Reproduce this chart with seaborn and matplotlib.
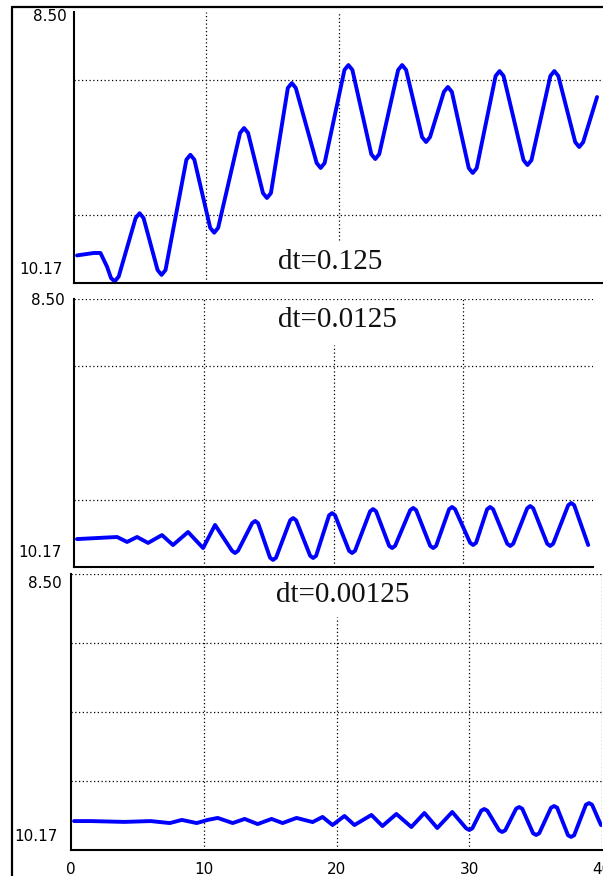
import matplotlib
matplotlib.use("Agg")
import matplotlib.pyplot as plt
import seaborn as sns
import pandas as pd
from matplotlib.lines import Line2D

# ---------------- data ----------------
t1 = [0.23, 1.5, 2.0, 2.5, 2.8, 3.08, 3.38, 4.66, 4.96, 5.26, 6.32, 6.62, 6.92,
      8.5, 8.8, 9.1, 10.3, 10.6, 10.9, 12.56, 12.86, 13.16, 14.29, 14.59, 14.89,
      16.17, 16.47, 16.77, 18.35, 18.65, 18.95, 20.45, 20.75, 21.05, 22.48, 22.78,
      23.08, 24.51, 24.81, 25.11, 26.32, 26.62, 26.92, 27.97, 28.27, 28.57, 29.85,
      30.15, 30.45, 31.88, 32.18, 32.48, 33.99, 34.29, 34.59, 36.02, 36.32, 36.62,
      37.9, 38.2, 38.5, 39.55]
v1 = [10.00, 9.985, 9.985, 10.07, 10.14, 10.16, 10.13, 9.77, 9.74, 9.77, 10.09,
      10.12, 10.09, 9.41, 9.38, 9.41, 9.83, 9.86, 9.83, 9.245, 9.215, 9.245,
      9.616, 9.646, 9.616, 8.968, 8.938, 8.968, 9.431, 9.461, 9.431, 8.857,
      8.827, 8.857, 9.376, 9.406, 9.376, 8.857, 8.827, 8.857, 9.271, 9.301,
      9.271, 8.992, 8.962, 8.992, 9.462, 9.492, 9.462, 8.894, 8.864, 8.894,
      9.413, 9.443, 9.413, 8.894, 8.864, 8.894, 9.302, 9.332, 9.302, 9.024]

t2 = [0.23, 3.32, 4.09, 4.86, 5.71, 6.78, 7.63, 8.79, 9.95, 10.87, 12.18, 12.41,
      12.64, 13.73, 13.96, 14.19, 15.11, 15.34, 15.57, 16.66, 16.89, 17.12, 18.2,
      18.43, 18.66, 19.66, 19.89, 20.12, 21.2, 21.43, 21.66, 22.82, 23.05, 23.28,
      24.29, 24.52, 24.75, 25.91, 26.14, 26.37, 27.45, 27.68, 27.91, 28.91, 29.14,
      29.37, 30.53, 30.76, 30.99, 31.84, 32.07, 32.3, 33.39, 33.62, 33.85, 34.93,
      35.16, 35.39, 36.47, 36.7, 36.93, 38.09, 38.32, 38.55, 39.63]
v2 = [9.996, 9.983, 10.014, 9.983, 10.020, 9.971, 10.033, 9.952, 10.052, 9.908,
      10.069, 10.083, 10.069, 9.897, 9.883, 9.897, 10.112, 10.126, 10.112, 9.879,
      9.865, 9.879, 10.100, 10.114, 10.100, 9.848, 9.834, 9.848, 10.069, 10.083,
      10.069, 9.823, 9.809, 9.823, 10.038, 10.052, 10.038, 9.816, 9.802, 9.816,
      10.038, 10.052, 10.038, 9.810, 9.796, 9.810, 10.019, 10.033, 10.019, 9.810,
      9.796, 9.810, 10.025, 10.039, 10.025, 9.804, 9.790, 9.804, 10.025, 10.039,
      10.025, 9.785, 9.771, 9.785, 10.033]

t3 = [0.23, 1.5, 4.0, 6.0, 7.44, 8.35, 9.47, 10.30, 11.05, 12.18, 13.08, 14.06,
      15.11, 15.94, 16.99, 18.20, 18.95, 19.70, 20.60, 21.35, 22.63, 23.46, 24.51,
      25.64, 26.62, 27.59, 28.72, 29.77, 30.00, 30.23, 30.90, 31.13, 31.36, 32.25,
      32.48, 32.71, 33.53, 33.76, 33.99, 34.81, 35.04, 35.27, 36.16, 36.39, 36.62,
      37.44, 37.67, 37.9, 38.79, 39.02, 39.25, 39.92]
v3 = [9.995, 9.995, 10.000, 9.995, 10.007, 9.988, 10.007, 9.988, 9.976, 10.007,
      9.982, 10.013, 9.982, 10.007, 9.976, 10.001, 9.970, 10.019, 9.964, 10.019,
      9.958, 10.025, 9.952, 10.031, 9.946, 10.037, 9.940, 10.039, 10.049, 10.039,
      9.932, 9.922, 9.932, 10.051, 10.061, 10.051, 9.920, 9.910, 9.920, 10.069,
      10.079, 10.069, 9.914, 9.904, 9.914, 10.081, 10.091, 10.081, 9.896, 9.886,
      9.896, 10.019]

titles = ["dt=0.125", "dt=0.0125", "dt=0.00125"]
y_label_vals = [8.50, 10.17]
y_labels = ["8.50", "10.17"]
x_ticks = [0, 10, 20, 30, 40]
x_ticklabels = ["0", "10", "20", "30", "40"]
hgrid = [[8.9175, 9.7525], [8.50, 8.9175, 9.7525], [8.50, 8.9175, 9.335, 9.7525]]
vgrid = [[10, 20], [10, 20, 30], [10, 20, 30, 40]]

# ---------------- figure ----------------
sns.set_style("white")
plt.rcParams['font.family'] = ['DejaVu Sans']

W, H = 603, 876
fig = plt.figure(figsize=(W / 100, H / 100), dpi=100)
fig.patch.set_facecolor("white")

boxes = [(74, 603, 12, 283), (74, 593, 299, 567), (71, 602, 574, 850)]
series = [(t1, v1), (t2, v2), (t3, v3)]
title_pos = [(330, 262), (337, 320), (343, 595)]
label_off = [((-7, -5), (-11, 13)), ((-9, -2), (-12, 14)), ((-9, -10), (-13, 13))]
# vertical-grid clipping at x=20 (ymin, ymax) per panel
v20 = [(0.16, 1.0), (0.0, 0.83), (0.0, 0.845)]

dot = (0, (1, 2))
for i, (l, r, t, b) in enumerate(boxes):
    ax = fig.add_axes([l / W, 1 - b / H, (r - l) / W, (b - t) / H])
    ax.set_facecolor("white")
    tt, vv = series[i]
    df = pd.DataFrame({"t": tt, "v": vv})
    sns.lineplot(data=df, x="t", y="v", ax=ax, color="#0000ff", linewidth=2.8,
                 solid_joinstyle="round", solid_capstyle="round", sort=False)
    ax.set_xlim(0, 40)
    ax.set_ylim(10.17, 8.50)
    ax.set_xlabel("")
    ax.set_ylabel("")

    for hy in hgrid[i]:
        ax.axhline(hy, color="black", linewidth=0.9, linestyle=dot, zorder=0)
    for vx in vgrid[i]:
        if vx == 20:
            ax.axvline(vx, ymin=v20[i][0], ymax=v20[i][1], color="black",
                       linewidth=0.9, linestyle=dot, zorder=0)
        else:
            ax.axvline(vx, color="black", linewidth=0.9, linestyle=dot, zorder=0)

    for s in ["top", "right"]:
        ax.spines[s].set_visible(False)
    for s in ["left", "bottom"]:
        ax.spines[s].set_color("black")
        ax.spines[s].set_linewidth(1.5)

    ax.set_yticks(hgrid[i] + [8.50, 10.17])
    ax.set_yticklabels([])
    ax.tick_params(axis="y", direction="out", length=3, width=1, color="black")
    ax.set_xticks(x_ticks)
    if i == 2:
        ax.set_xticklabels(x_ticklabels, fontsize=11)
        ax.tick_params(axis="x", direction="out", length=4, width=1,
                       color="black", pad=5, labelcolor="black")
    else:
        ax.set_xticklabels([])
        ax.tick_params(axis="x", direction="out", length=4, width=1, color="black")

    for (val, lab), off in zip(zip(y_label_vals, y_labels), label_off[i]):
        ax.annotate(lab, xy=(0, val), xycoords=("axes fraction", "data"),
                    xytext=off, textcoords="offset pixels", ha="right",
                    va="center", fontsize=11, color="black",
                    annotation_clip=False)

    tx, ty = title_pos[i]
    fig.text(tx / W, 1 - ty / H, titles[i], family="Liberation Serif",
             fontsize=21, color="#111111", ha="center", va="center",
             bbox=dict(facecolor="white", edgecolor="none", pad=1.5))

# outer frame (left and top)
fig.add_artist(Line2D([12 / W, 12 / W], [0, 1 - 7 / H], color="black", linewidth=1.6))
fig.add_artist(Line2D([12 / W, 1], [1 - 7 / H, 1 - 7 / H], color="black", linewidth=1.6))

fig.savefig("out.png", dpi=100, facecolor="white")
